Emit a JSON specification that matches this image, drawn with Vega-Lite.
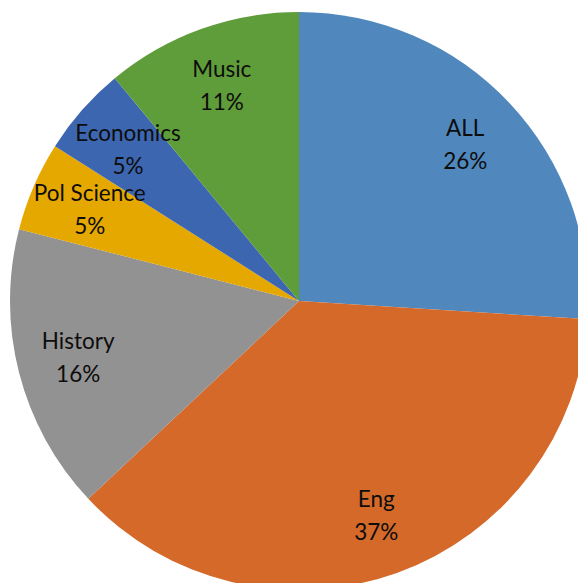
{
  "$schema": "https://vega.github.io/schema/vega-lite/v6.json",
  "width": 598,
  "height": 602,
  "padding": 0,
  "autosize": {"type": "none"},
  "background": "white",
  "config": {"view": {"stroke": null}},
  "data": {"values": [
    {"rank": 1, "name": "ALL", "pct": 26},
    {"rank": 2, "name": "Eng", "pct": 37},
    {"rank": 3, "name": "History", "pct": 16},
    {"rank": 4, "name": "Pol Science", "pct": 5},
    {"rank": 5, "name": "Economics", "pct": 5},
    {"rank": 6, "name": "Music", "pct": 11}
  ]},
  "transform": [{"calculate": "[datum.name, datum.pct + '%']", "as": "lbl"}],
  "encoding": {
    "theta": {"field": "pct", "type": "quantitative", "stack": true},
    "order": {"field": "rank", "type": "quantitative"}
  },
  "layer": [
    {
      "mark": {"type": "arc", "outerRadius": 289, "stroke": null},
      "encoding": {
        "color": {
          "field": "name", "type": "nominal", "sort": null, "legend": null,
          "scale": {
            "domain": ["ALL", "Eng", "History", "Pol Science", "Economics", "Music"],
            "range": ["#5088BE", "#D4692A", "#929292", "#E5A800", "#3D66B0", "#5F9C3A"]
          }
        }
      }
    },
    {
      "mark": {"type": "text", "radius": 228, "dy": -16, "font": "Lato", "fontSize": 22.5, "lineHeight": 33, "color": "#0d0d0d", "align": "center", "baseline": "middle"},
      "encoding": {
        "text": {"field": "lbl"}
      }
    }
  ]
}
